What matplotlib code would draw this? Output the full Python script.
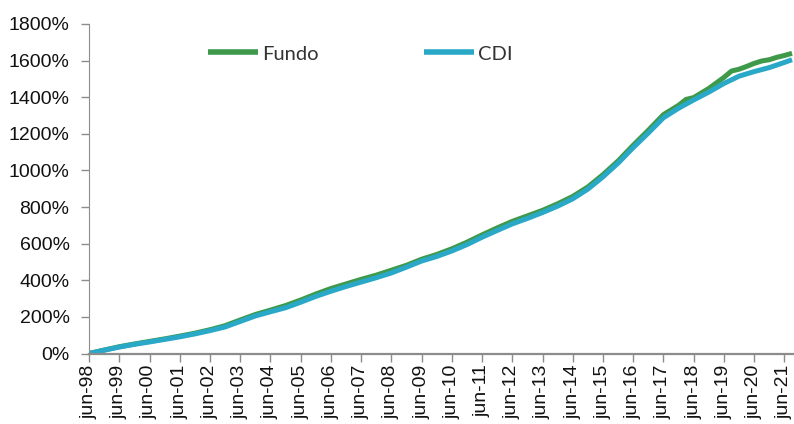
import matplotlib
matplotlib.use("Agg")
import matplotlib.pyplot as plt
import pandas as pd

cdi_dates = ["1998-06", "1998-12", "1999-06", "1999-12", "2000-06", "2000-12",
             "2001-06", "2001-12", "2002-06", "2002-12", "2003-06", "2003-12",
             "2004-06", "2004-12", "2005-06", "2005-12", "2006-06", "2006-12",
             "2007-06", "2007-12", "2008-06", "2008-12", "2009-06", "2009-12",
             "2010-06", "2010-12", "2011-06", "2011-12", "2012-06", "2012-12",
             "2013-06", "2013-12", "2014-06", "2014-12", "2015-06", "2015-12",
             "2016-06", "2016-12", "2017-06", "2017-12", "2018-06", "2018-12",
             "2019-06", "2019-12", "2020-06", "2020-12", "2021-06", "2021-09"]
cdi_values = [0, 18, 35, 50, 63, 77, 91, 107, 125, 145, 175, 205,
              228, 250, 280, 312, 340, 366, 390, 414, 440, 472, 505, 530,
              560, 595, 635, 672, 708, 738, 770, 805, 845, 898, 965, 1040,
              1125, 1205, 1288, 1340, 1385, 1428, 1475, 1515, 1540, 1562, 1590, 1605]

fundo_dates = ["1998-06", "1998-12", "1999-06", "1999-12", "2000-06", "2000-12",
               "2001-06", "2001-12", "2002-06", "2002-12", "2003-06", "2003-12",
               "2004-06", "2004-12", "2005-06", "2005-12", "2006-06", "2006-12",
               "2007-06", "2007-12", "2008-06", "2008-12", "2009-06", "2009-12",
               "2010-06", "2010-12", "2011-06", "2011-12", "2012-06", "2012-12",
               "2013-06", "2013-12", "2014-06", "2014-12", "2015-06", "2015-12",
               "2016-06", "2016-12", "2017-06", "2017-12", "2018-03", "2018-06",
               "2018-12", "2019-06", "2019-09", "2019-12", "2020-03", "2020-06",
               "2020-09", "2020-12", "2021-03", "2021-06", "2021-09"]
fundo_values = [0, 19, 37, 52, 66, 80, 95, 111, 130, 152, 183, 213,
                237, 262, 292, 325, 355, 380, 405, 428, 455, 482, 515, 541,
                572, 608, 648, 686, 722, 752, 782, 818, 858, 910, 977, 1052,
                1138, 1220, 1305, 1356, 1388, 1398, 1448, 1508, 1543, 1553, 1568, 1585,
                1598, 1605, 1618, 1628, 1640]

tick_years = list(range(1998, 2022))
tick_labels = [f"jun-{y % 100:02d}" for y in tick_years]
y_ticks = list(range(0, 1801, 200))

green = "#3e9a4a"
blue = "#2aa8c8"

plt.rcParams["font.family"] = ["Liberation Sans", "DejaVu Sans"]
fig = plt.figure(figsize=(7.94, 4.24), dpi=100)
ax = fig.add_axes([89 / 794, 1 - 353.5 / 424, 1 - 89 / 794, (353.5 - 24) / 424])

ax.plot(pd.to_datetime(fundo_dates), fundo_values, color=green, lw=3.6,
        solid_capstyle="butt", solid_joinstyle="round", label="Fundo")
ax.plot(pd.to_datetime(cdi_dates), cdi_values, color=blue, lw=3.6,
        solid_capstyle="butt", solid_joinstyle="round", label="CDI")

ax.set_xlim(pd.Timestamp("1998-06-01"), pd.Timestamp("2021-09-25"))
ax.set_ylim(0, 1800)
ax.set_yticks(y_ticks)
ax.set_yticklabels([f"{v}%" for v in y_ticks])
ax.set_xticks(pd.to_datetime([f"{y}-06-01" for y in tick_years]))
ax.set_xticklabels(tick_labels, rotation=90)

for s in ["top", "right"]:
    ax.spines[s].set_visible(False)
ax.spines["left"].set_color("#8c8c8c")
ax.spines["bottom"].set_color("#8c8c8c")
ax.spines["bottom"].set_linewidth(1.6)
ax.tick_params(axis="both", colors="#8c8c8c", labelcolor="#111111",
               labelsize=14, length=6, width=1)
ax.tick_params(axis="y", pad=8)
ax.tick_params(axis="x", pad=2)

leg = ax.legend(loc="center left", bbox_to_anchor=(208 / 794, 1 - 54 / 424),
                bbox_transform=fig.transFigure, ncol=2, frameon=False,
                borderpad=0, borderaxespad=0, handlelength=2.5, handletextpad=0.2,
                columnspacing=5.2, prop={"family": "Lato", "size": 14.5})
for t in leg.get_texts():
    t.set_color("#333333")
for h in leg.get_lines():
    h.set_linewidth(4)

fig.savefig("out.png", dpi=100)
